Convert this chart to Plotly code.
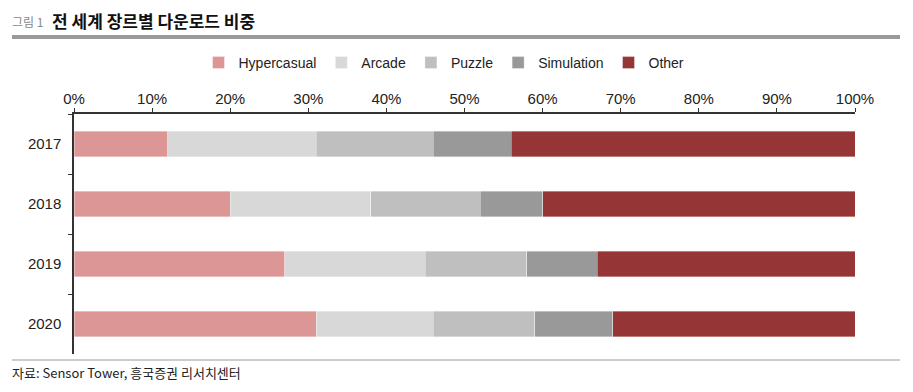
import plotly.graph_objects as go

years = ["2017", "2018", "2019", "2020"]
genres = ["Hypercasual", "Arcade", "Puzzle", "Simulation", "Other"]
hypercasual = [12, 20, 27, 31]
arcade = [19, 18, 18, 15]
puzzle = [15, 14, 13, 13]
simulation = [10, 8, 9, 10]
other = [44, 40, 33, 31]
x_ticks = [0, 10, 20, 30, 40, 50, 60, 70, 80, 90, 100]
x_tick_labels = [f"{v}%" for v in x_ticks]

series = [hypercasual, arcade, puzzle, simulation, other]
colors = ["#DB9695", "#D8D8D8", "#BFBFBF", "#999999", "#963535"]

# page body has an 8px margin; work in page pixel coords and convert
OFF = 8
W, H = 897, 376
L, R, T, B = 74 - OFF, (W + OFF) - 855, 114 - OFF, (H + OFF) - 354
pw, ph = W - L - R, H - T - B
def px(x):
    return (x - OFF - L) / pw
def py(y):
    return (H - B - (y - OFF)) / ph

fig = go.Figure()
for name, vals, c in zip(genres, series, colors):
    fig.add_trace(go.Bar(
        y=years, x=vals, name=name, orientation="h",
        marker=dict(color=c, line=dict(width=0.6, color="rgba(255,255,255,0.6)")),
        width=0.42,
    ))

fig.update_layout(
    width=W, height=H, barmode="stack",
    margin=dict(l=L, r=R, t=T, b=B),
    paper_bgcolor="white", plot_bgcolor="white",
    showlegend=True,
    legend=dict(orientation="h", x=px(444), xanchor="center", y=py(63), yanchor="middle",
                font=dict(family="Liberation Sans, Arial, sans-serif", size=14, color="#222"),
                traceorder="normal", itemwidth=30, bgcolor="rgba(0,0,0,0)"),
    xaxis=dict(range=[0, 100], side="top", tickvals=x_ticks, ticktext=x_tick_labels,
               showgrid=False, zeroline=False, showline=True, linecolor="#333", linewidth=1.5,
               ticks="outside", ticklen=4, tickcolor="#333", ticklabelstandoff=-2,
               tickfont=dict(family="Liberation Sans Narrow, Arial Narrow, sans-serif", size=15, color="#222"),
               fixedrange=True),
    yaxis=dict(autorange="reversed", type="category", showgrid=False, zeroline=False,
               showline=True, linecolor="#333", linewidth=1.5,
               ticks="outside", ticklen=4, tickcolor="#333", tickson="boundaries",
               tickfont=dict(family="Liberation Sans Narrow, Arial Narrow, sans-serif", size=15, color="#222"),
               ticklabelstandoff=8,
               fixedrange=True),
    shapes=[
        dict(type="line", xref="paper", yref="paper", x0=px(12), x1=px(900), y0=py(37), y1=py(37),
             line=dict(color="#9A9A9A", width=4)),
        dict(type="line", xref="paper", yref="paper", x0=px(12), x1=px(900), y0=py(360), y1=py(360),
             line=dict(color="#9A9A9A", width=1)),
    ],
    annotations=[
        dict(text="그림 1", xref="paper", yref="paper", x=px(11), y=py(21), xanchor="left", yanchor="middle",
             showarrow=False, borderpad=0, font=dict(family="Noto Sans CJK KR", size=12, color="#888")),
        dict(text="<b>전 세계 장르별 다운로드 비중</b>", xref="paper", yref="paper", x=px(51), y=py(20.5),
             xanchor="left", yanchor="middle", showarrow=False, borderpad=0,
             font=dict(family="Noto Sans CJK KR", size=17, color="#111")),
        dict(text="자료: Sensor Tower, 흥국증권 리서치센터", xref="paper", yref="paper", x=px(11), y=py(372),
             xanchor="left", yanchor="middle", showarrow=False, borderpad=0,
             font=dict(family="Noto Sans CJK KR", size=13, color="#222")),
    ],
)

fig.write_html("out.html")
